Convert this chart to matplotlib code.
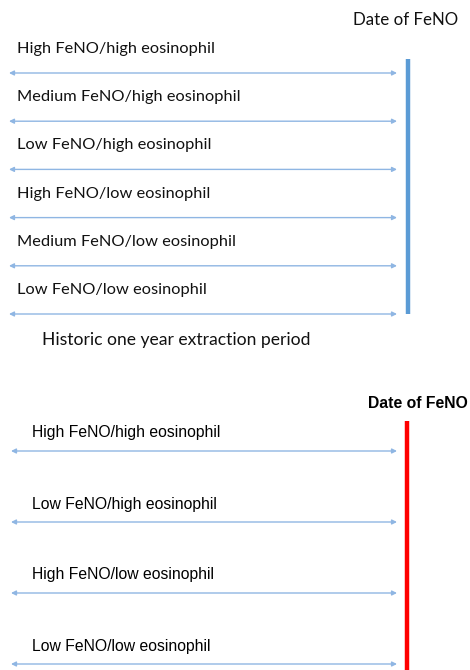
import matplotlib
matplotlib.use("Agg")
import matplotlib.pyplot as plt

# Data
top_labels = ['High FeNO/high eosinophil', 'Medium FeNO/high eosinophil',
              'Low FeNO/high eosinophil', 'High FeNO/low eosinophil',
              'Medium FeNO/low eosinophil', 'Low FeNO/low eosinophil']
bottom_labels = ['High FeNO/high eosinophil', 'Low FeNO/high eosinophil',
                 'High FeNO/low eosinophil', 'Low FeNO/low eosinophil']
marker_label = 'Date of FeNO'
period_label = 'Historic one year extraction period'

fig = plt.figure(figsize=(4.7, 6.7), dpi=100)
ax = fig.add_axes([0, 0, 1, 1])
ax.set_xlim(0, 470)
ax.set_ylim(670, 0)
ax.axis('off')

arrow_kw = dict(arrowstyle='<|-|>', color='#8fb6e3', lw=1.0, mutation_scale=7,
                shrinkA=0, shrinkB=0)

# Top panel (Calibri-like)
top_font = 'Lato'
top_y0, top_step = 73, 48.2
for i, lab in enumerate(top_labels):
    y = top_y0 + i * top_step
    ax.annotate('', xy=(397, y), xytext=(9, y), arrowprops=arrow_kw)
    ax.text(17, y - 24, lab, fontsize=11.8, family=top_font, va='center', ha='left', color='#111111')
ax.plot([408, 408], [59, top_y0 + (len(top_labels) - 1) * top_step], color='#5b9bd5', lw=3.2,
        solid_capstyle='butt')
ax.text(353, 20, marker_label, fontsize=12.2, family=top_font, va='center', ha='left', color='#111111')
ax.text(42, 340, period_label, fontsize=12.6, family=top_font, va='center', ha='left', color='#111111')

# Bottom panel (Arial-like)
bot_font = 'Liberation Sans'
bot_y0, bot_step = 451, 71
for i, lab in enumerate(bottom_labels):
    y = bot_y0 + i * bot_step
    ax.annotate('', xy=(397, y), xytext=(11, y), arrowprops=arrow_kw)
    ax.text(32, y - 18, lab, fontsize=11.3, family=bot_font, va='center', ha='left', color='black')
ax.plot([407, 407], [421, 670], color='#ff0000', lw=3.2, solid_capstyle='butt')
ax.text(468, 403, marker_label, fontsize=11.3, family=bot_font, weight='bold',
        va='center', ha='right', color='black')

fig.savefig('out.png', dpi=100)
